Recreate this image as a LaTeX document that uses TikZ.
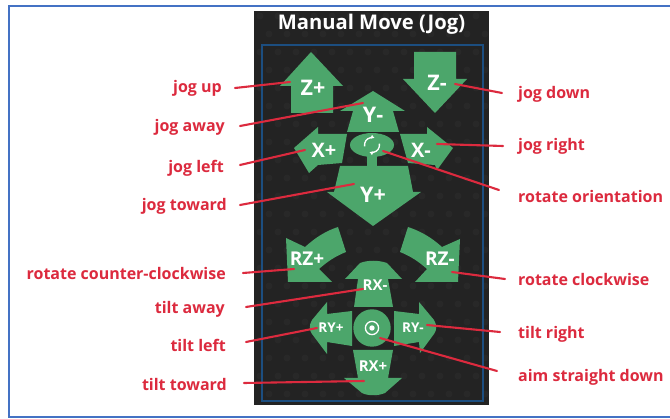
\documentclass[tikz,border=0pt]{standalone}
\usepackage{fontspec}
\usetikzlibrary{arrows.meta}
\setmainfont{Open Sans}
\definecolor{frameblue}{HTML}{4472C4}
\definecolor{panel}{HTML}{232323}
\definecolor{panelfleck}{HTML}{282828}
\definecolor{innerblue}{HTML}{1C4E80}
\definecolor{jog}{HTML}{4CA66B}
\definecolor{note}{HTML}{DC2A3E}
\tikzset{
  x=1pt,y=-1pt,
  arrowshape/.style={fill=jog,draw=none},
  bigkey/.style={text=white,font=\bfseries\fontsize{21.5}{22}\selectfont,inner sep=0pt},
  keytext/.style={text=white,font=\bfseries\fontsize{20}{20}\selectfont,inner sep=0pt},
  rzkey/.style={text=white,font=\bfseries\fontsize{19}{19}\selectfont,inner sep=0pt},
  smallkey/.style={text=white,font=\bfseries\fontsize{15}{15}\selectfont,inner sep=0pt},
  tinykey/.style={text=white,font=\bfseries\fontsize{13.5}{14}\selectfont,inner sep=0pt},
  lab/.style={text=note,font=\bfseries\fontsize{16}{17}\selectfont,inner sep=0pt},
  wire/.style={draw=note,line width=2.1pt,line cap=round},
}
\begin{document}
\begin{tikzpicture}
\useasboundingbox (0,0) rectangle (670,419);
\fill[white] (0,0) rectangle (670,419);
\draw[frameblue,line width=2pt] (670,6) -- (9,6) -- (9,417) -- (670,417);
\fill[panel] (254,11) rectangle (489,405);
\foreach \i in {0,...,12} \foreach \j in {0,...,21}
  \fill[panelfleck] ({260+18*\i+9*mod(\j,2)},{16+18*\j}) circle [radius=3.5];
\draw[innerblue,line width=2pt] (262,45) rectangle (483,401);
\node[text=white,font=\bfseries\fontsize{20.2}{21}\selectfont,inner sep=0pt] (title) at (371.5,24) {Manual Move (Jog)};

% upper arrows
\fill[arrowshape] (311,52) -- (343,86) -- (333,86) -- (333,113) -- (291,113) -- (291,86) -- (280,86) -- cycle;
\fill[arrowshape] (414,52) -- (456,52) -- (456,79) -- (467,79) -- (435,113) -- (403,79) -- (414,79) -- cycle;
\fill[arrowshape] (373,91) -- (405,111) -- (393,111) -- (399,132) -- (347,132) -- (353,111) -- (340,111) -- cycle;
\fill[arrowshape] (294,148) -- (318,127) -- (318,134) -- (347,134) -- (342,163) -- (318,165) -- (309,173) -- cycle;
\fill[arrowshape] (400,134) -- (427,134) -- (427,127) -- (453,148) -- (437,170) -- (435,165) -- (408,163) -- cycle;
\fill[arrowshape] (340,166) -- (408,166) -- (413,192) -- (421,192) -- (373,226) -- (327,192) -- (334,192) -- cycle;
\fill[arrowshape] (372,145) ellipse [x radius=22,y radius=12];
\fill[arrowshape] (367,152) rectangle (377,167);
% lower arrows
\fill[arrowshape] (286,238) -- (305,247) .. controls (316,237) and (326,231) .. (338,227) -- (346,252) .. controls (336,256) and (328,261) .. (319,269) -- (332,282) -- (288,282) -- cycle;
\fill[arrowshape] (460,239) -- (442,247) .. controls (431,237) and (420,231) .. (408,227) -- (400,252) .. controls (410,256) and (418,261) .. (427,269) -- (415,282) -- (458,282) -- cycle;
\fill[arrowshape] (345,279) -- (360,263) .. controls (368,260) and (378,260) .. (387,263) -- (402,279) -- (388,279) -- (393,307) -- (354,307) -- (358,279) -- cycle;
\fill[arrowshape] (353,350) -- (393,350) -- (388,378) -- (402,378) -- (385,393) .. controls (378,396) and (368,396) .. (362,393) -- (344,378) -- (358,378) -- cycle;
\fill[arrowshape] (352,311) -- (327,314) -- (327,302) -- (312,320) .. controls (309,325) and (309,330) .. (312,334) -- (327,354) -- (327,342) -- (352,346) -- cycle;
\fill[arrowshape] (394,311) -- (419,314) -- (419,302) -- (434,320) .. controls (437,325) and (437,330) .. (434,334) -- (420,353) -- (419,342) -- (394,346) -- cycle;
\fill[arrowshape] (372,328) circle [radius=18.7];
% icons
\draw[white,line width=1.3pt] (372,328) circle [radius=6.6];
\fill[white] (372,328) circle [radius=2.7];
\draw[white,line width=1.3pt,-{Latex[length=3.5pt,width=4.5pt]}] (364.6,146.3) arc[start angle=170,end angle=290,radius=7.5];
\draw[white,line width=1.3pt,-{Latex[length=3.5pt,width=4.5pt]}] (379.4,143.7) arc[start angle=-10,end angle=110,radius=7.5];

% key captions
\node[bigkey] (zp) at (313,88) {Z+};
\node[bigkey] (zm) at (437,83) {Z-};
\node[bigkey] (ym) at (373,115) {Y-};
\node[keytext] (xp) at (324,150) {X+};
\node[keytext] (xm) at (421,150) {X-};
\node[bigkey] (yp) at (373,195) {Y+};
\node[rzkey] (rzp) at (307,259) {RZ+};
\node[rzkey] (rzm) at (440,259) {RZ-};
\node[smallkey] (rxm) at (375,285) {RX-};
\node[smallkey] (rxp) at (373,366) {RX+};
\node[tinykey] (ryp) at (331,328) {RY+};
\node[tinykey] (rym) at (413,328) {RY-};

% labels
\node[lab,anchor=east] (l1) at (222,88) {jog up};
\node[lab,anchor=east] (l2) at (225,127) {jog away};
\node[lab,anchor=east] (l3) at (224,168) {jog left};
\node[lab,anchor=east] (l4) at (227,206) {jog toward};
\node[lab,anchor=east] (l5) at (226,274) {rotate counter-clockwise};
\node[lab,anchor=east] (l6) at (225,309) {tilt away};
\node[lab,anchor=east] (l7) at (226,345) {tilt left};
\node[lab,anchor=east] (l8) at (227,385) {tilt toward};
\node[lab,anchor=west] (r1) at (518,94) {jog down};
\node[lab,anchor=west] (r2) at (518,146) {jog right};
\node[lab,anchor=west] (r3) at (518,197) {rotate orientation};
\node[lab,anchor=west] (r4) at (518,280) {rotate clockwise};
\node[lab,anchor=west] (r5) at (518,334) {tilt right};
\node[lab,anchor=west] (r6) at (518,377) {aim straight down};

% connector ends
\coordinate (a1) at (235,88);  \coordinate (b1) at (290,82);
\coordinate (a2) at (240,126); \coordinate (b2) at (363,103);
\coordinate (a3) at (240,165); \coordinate (b3) at (305,150);
\coordinate (a4) at (240,205); \coordinate (b4) at (354,184);
\coordinate (a5) at (243,273); \coordinate (b5) at (294,269);
\coordinate (a6) at (246,307); \coordinate (b6) at (363,289);
\coordinate (a7) at (246,342); \coordinate (b7) at (317,328);
\coordinate (a8) at (244,383); \coordinate (b8) at (364,381);
\coordinate (c1) at (502,93);  \coordinate (d1) at (455,84);
\coordinate (c2) at (503,146); \coordinate (d2) at (437,144);
\coordinate (c3) at (499,190); \coordinate (d3) at (383,151);
\coordinate (c4) at (505,279); \coordinate (d4) at (452,272);
\coordinate (c5) at (500,332); \coordinate (d5) at (427,325);
\coordinate (c6) at (497,371); \coordinate (d6) at (380,338);
\foreach \p/\q in {a1/b1,a2/b2,a3/b3,a4/b4,a5/b5,a6/b6,a7/b7,a8/b8,c1/d1,c2/d2,c3/d3,c4/d4,c5/d5,c6/d6}
  \draw[wire] (\p) -- (\q);
\end{tikzpicture}
\end{document}
